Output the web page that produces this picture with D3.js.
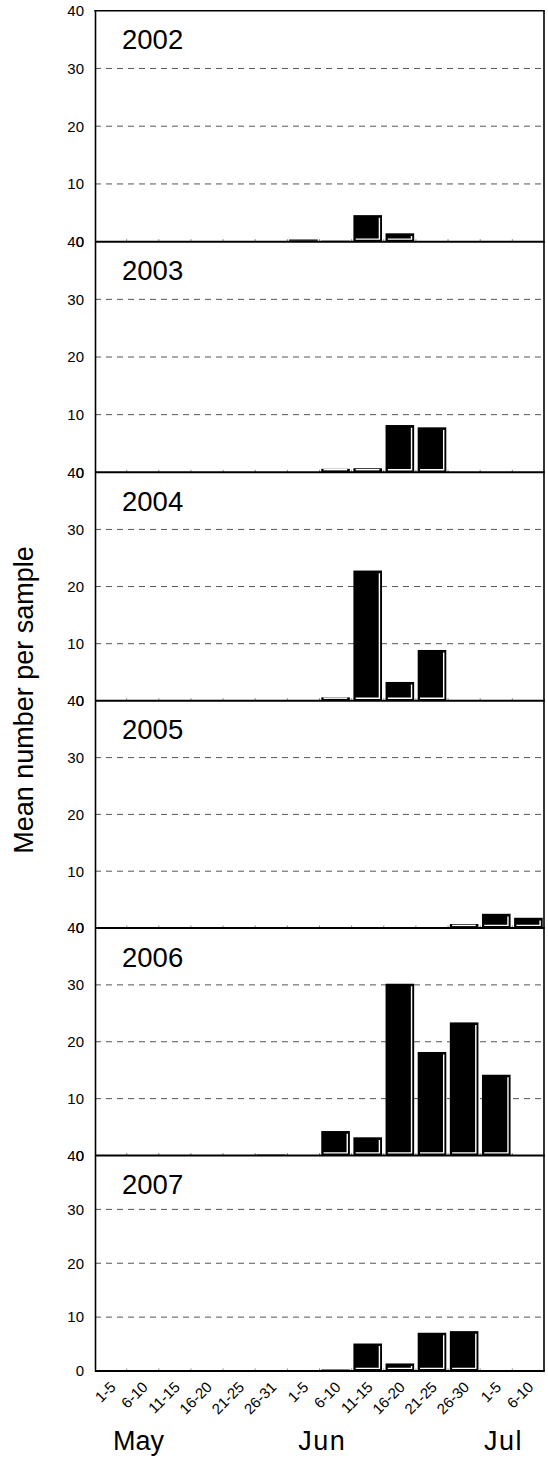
<!DOCTYPE html>
<html>
<head>
<meta charset="utf-8">
<script src="https://cdn.jsdelivr.net/npm/d3@7"></script>
<style>
  html, body { margin: 0; padding: 0; background: #fff; }
  svg { display: block; font-family: "Liberation Sans", Arial, sans-serif; }
</style>
</head>
<body>
<svg id="chart" width="548" height="1464"></svg>
<script>
// ---- data ----
const categories = ["1-5","6-10","11-15","16-20","21-25","26-31","1-5","6-10","11-15","16-20","21-25","26-30","1-5","6-10"];
const months = ["May","Jun","Jul"];
const years = ["2002","2003","2004","2005","2006","2007"];
const yTicks = [0,10,20,30,40];
const v2002 = [0,0,0,0,0,0,0.4,0.15,4.6,1.45,0,0,0,0];
const v2003 = [0,0,0,0,0,0,0,0.6,0.7,8.2,7.8,0,0,0];
const v2004 = [0,0,0,0,0,0,0,0.6,22.8,3.3,8.9,0,0,0];
const v2005 = [0,0,0,0,0,0,0,0,0,0,0,0.7,2.5,1.8];
const v2006 = [0,0,0,0,0,0.1,0,4.3,3.2,30.2,18.2,23.4,14.2,0];
const v2007 = [0,0,0,0,0,0,0,0.3,5.1,1.4,7.1,7.4,0,0];
const series = [v2002, v2003, v2004, v2005, v2006, v2007];

// ---- layout ----
const left = 95, right = 544;
const edges = [10.7, 241.7, 472.3, 700.8, 928, 1155.5, 1371];
const svg = d3.select("#chart");

const x = d3.scaleBand().domain(d3.range(categories.length))
  .range([left, right]).paddingInner(0.11).paddingOuter(0.04);

series.forEach((vals, p) => {
  const top = edges[p], bottom = edges[p + 1];
  const y = d3.scaleLinear().domain([0, 40]).range([bottom, top]);
  const g = svg.append("g");

  // gridlines
  g.selectAll("line.grid").data([10, 20, 30]).join("line")
    .attr("x1", left).attr("x2", right)
    .attr("y1", d => y(d)).attr("y2", d => y(d))
    .attr("stroke", "#555").attr("stroke-width", 1)
    .attr("stroke-dasharray", "6,5");

  // small x ticks at band boundaries
  g.selectAll("line.xt").data(d3.range(1, categories.length)).join("line")
    .attr("x1", d => x(d) - x.step() * x.paddingInner() / 2)
    .attr("x2", d => x(d) - x.step() * x.paddingInner() / 2)
    .attr("y1", y(0)).attr("y2", y(0) - 2.5)
    .attr("stroke", "#888").attr("stroke-width", 1);

  // bars
  const bars = g.selectAll("g.bar").data(vals.map((v, i) => ({v, i})).filter(d => d.v > 0)).join("g");
  bars.each(function(d) {
    const b = d3.select(this);
    const bx = x(d.i), bw = x.bandwidth();
    const by = y(d.v), bh = y(0) - y(d.v);
    if (bh < 3) {
      b.append("rect").attr("x", bx).attr("y", y(0) - Math.max(bh, 1.2))
        .attr("width", bw).attr("height", Math.max(bh, 1.2))
        .attr("fill", bh < 1.5 ? "#777" : "#333");
      return;
    }
    b.append("rect").attr("x", bx).attr("y", by).attr("width", bw).attr("height", bh)
      .attr("fill", "#000");
    const path = d3.path();
    path.moveTo(bx + 2.3, y(0) - 2.6);
    path.lineTo(bx + bw - 2.6, y(0) - 2.6);
    if (bh > 5) path.lineTo(bx + bw - 2.6, by + 2.6);
    b.append("path").attr("d", path.toString())
      .attr("fill", "none").attr("stroke", "#fff").attr("stroke-width", 1.4);
  });

  // left axis with labels
  const ax = g.append("g").attr("transform", `translate(${left},0)`)
    .call(d3.axisLeft(y).tickValues(yTicks).tickSize(0).tickPadding(11).tickFormat(d3.format("d")));
  ax.select(".domain").attr("stroke", "#000").attr("stroke-width", 1.6);
  ax.selectAll("text").attr("font-size", 15).attr("fill", "#000")
    .attr("font-family", "Liberation Sans, Arial, sans-serif");

  // right border
  g.append("line").attr("x1", right).attr("x2", right).attr("y1", top).attr("y2", bottom)
    .attr("stroke", "#000").attr("stroke-width", 1.6);
  // bottom line
  g.append("line").attr("x1", left).attr("x2", right + 0.8).attr("y1", bottom).attr("y2", bottom)
    .attr("stroke", "#000").attr("stroke-width", 2);
  if (p === 0) {
    g.append("line").attr("x1", left - 0.8).attr("x2", right + 0.8).attr("y1", top).attr("y2", top)
      .attr("stroke", "#000").attr("stroke-width", 1.6);
  }

  // year label
  g.append("text").attr("x", 122).attr("y", top + 38.6)
    .attr("font-size", 27.5).attr("fill", "#000").text(years[p]);

  // bottom x axis labels on last panel
  if (p === series.length - 1) {
    const xa = g.append("g").attr("transform", `translate(0,${bottom})`)
      .call(d3.axisBottom(x).tickSize(0).tickFormat(i => categories[i]));
    xa.select(".domain").remove();
    xa.selectAll("text")
      .attr("font-size", 15).attr("fill", "#000")
      .attr("font-family", "Liberation Sans, Arial, sans-serif")
      .attr("text-anchor", "end")
      .attr("dy", null).attr("y", null)
      .attr("transform", "translate(6,17) rotate(-45)");
  }
});

// month labels
const monthX = [x(1) - 15.5, x(7) - 23, x(12) + 2];
svg.selectAll("text.month").data(months).join("text")
  .attr("class", "month")
  .attr("x", (d, i) => monthX[i]).attr("y", 1450)
  .attr("font-size", 27).attr("letter-spacing", (d, i) => i === 0 ? 0 : 1.5)
  .attr("fill", "#000").text(d => d);

// y title
svg.append("text")
  .attr("transform", "translate(33,700) rotate(-90)")
  .attr("text-anchor", "middle").attr("font-size", 27).attr("fill", "#000")
  .text("Mean number per sample");
</script>
</body>
</html>
